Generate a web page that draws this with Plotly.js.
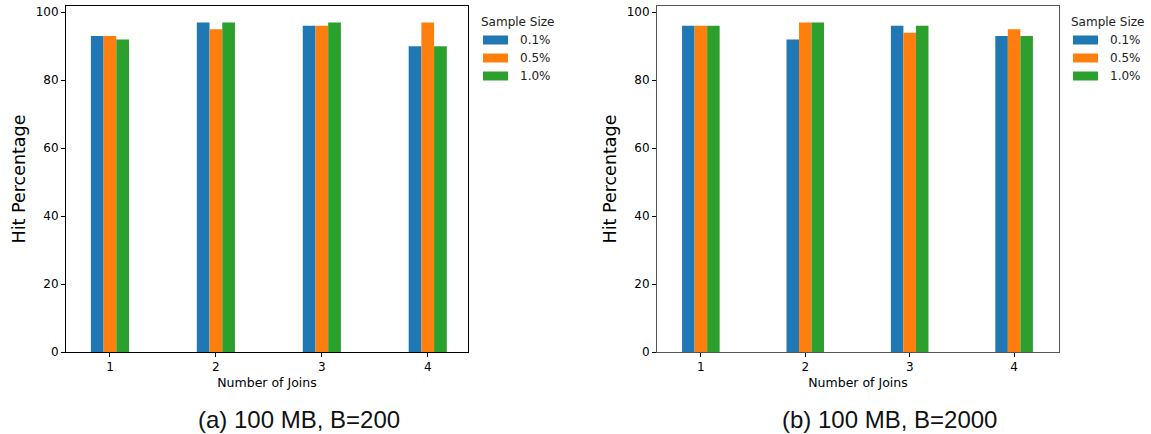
<!DOCTYPE html>
<html>
<head>
<meta charset="utf-8">
<script src="https://cdn.plot.ly/plotly-3.0.1.min.js"></script>
<style>html,body{margin:0;padding:0;background:#fff;}#chart{width:1151px;height:434px;}</style>
</head>
<body>
<div id="chart"></div>
<script>
const joins = [1, 2, 3, 4];
const sampleSizes = ["0.1%", "0.5%", "1.0%"];
const colors = ["#1f77b4", "#ff7f0e", "#2ca02c"];
// (a) 100 MB, B=200
const a_01 = [93, 97, 96, 90];
const a_05 = [93, 95, 96, 97];
const a_10 = [92, 97, 97, 90];
// (b) 100 MB, B=2000
const b_01 = [96, 92, 96, 93];
const b_05 = [96, 97, 94, 95];
const b_10 = [96, 97, 96, 93];
const yTicks = [0, 20, 40, 60, 80, 100];
const titleA = "(a) 100 MB, B=200";
const titleB = "(b) 100 MB, B=2000";

const W = 1151, H = 434;
const seriesA = [a_01, a_05, a_10];
const seriesB = [b_01, b_05, b_10];
const traces = [];
seriesA.forEach((v, i) => traces.push({type: 'bar', x: joins, y: v, name: sampleSizes[i], marker: {color: colors[i]}, xaxis: 'x', yaxis: 'y', showlegend: false, hoverinfo: 'none'}));
seriesB.forEach((v, i) => traces.push({type: 'bar', x: joins, y: v, name: sampleSizes[i], marker: {color: colors[i]}, xaxis: 'x2', yaxis: 'y2', showlegend: false, hoverinfo: 'none'}));

const font = "DejaVu Sans, sans-serif";
function xa(domainPx, range, anchor, lc) {
  return {domain: [domainPx[0] / W, domainPx[1] / W], anchor: anchor, range: range,
    tickvals: joins, ticktext: joins.map(String), ticks: 'outside', ticklen: 4, tickcolor: '#000', tickwidth: 1,
    showline: true, linecolor: lc, linewidth: 1, mirror: true, showgrid: false, zeroline: false,
    tickfont: {family: font, size: 12, color: '#000'},
    title: {text: 'Number of Joins', font: {family: font, size: 12.5, color: '#000'}, standoff: 4}, fixedrange: true};
}
function ya(anchor, lc) {
  return {domain: [(H - 352) / H, (H - 6) / H], anchor: anchor, range: [0, 101.85],
    tickvals: yTicks, ticks: 'outside', ticklen: 4, tickcolor: '#000', tickwidth: 1,
    showline: true, linecolor: lc, linewidth: 1, mirror: true, showgrid: false, zeroline: false,
    tickfont: {family: font, size: 12, color: '#000'},
    title: {text: 'Hit Percentage', font: {family: font, size: 17.5, color: '#000'}, standoff: 5}, fixedrange: true};
}

const shapes = [], annotations = [];
function legend(x0, y0) {
  annotations.push({xref: 'paper', yref: 'paper', x: x0 / W, y: 1 - y0 / H, text: 'Sample Size', showarrow: false,
    xanchor: 'left', yanchor: 'middle', font: {family: font, size: 12, color: '#222'}});
  sampleSizes.forEach((s, i) => {
    const cy = y0 + 18 + i * 18;
    shapes.push({type: 'rect', xref: 'paper', yref: 'paper', x0: (x0 + 4) / W, x1: (x0 + 29) / W,
      y0: 1 - (cy - 4.5) / H, y1: 1 - (cy + 4.5) / H, fillcolor: colors[i], line: {width: 0}});
    annotations.push({xref: 'paper', yref: 'paper', x: (x0 + 39) / W, y: 1 - cy / H, text: s, showarrow: false,
      xanchor: 'left', yanchor: 'middle', font: {family: font, size: 12, color: '#222'}});
  });
}
legend(479, 22);
legend(1069, 22);
annotations.push({xref: 'paper', yref: 'paper', x: 299 / W, y: 1 - 419 / H, text: titleA, showarrow: false,
  xanchor: 'center', yanchor: 'middle', font: {family: 'Liberation Sans, Arial, sans-serif', size: 24, color: '#111'}});
annotations.push({xref: 'paper', yref: 'paper', x: 889 / W, y: 1 - 419 / H, text: titleB, showarrow: false,
  xanchor: 'center', yanchor: 'middle', font: {family: 'Liberation Sans, Arial, sans-serif', size: 24, color: '#111'}});

const layout = {
  width: W, height: H, margin: {l: 0, r: 0, t: 0, b: 0}, paper_bgcolor: '#fff', plot_bgcolor: '#fff',
  barmode: 'group', bargap: 0.64, bargroupgap: 0, showlegend: false,
  xaxis: xa([66, 468], [0.585, 4.38], 'y', '#000'), yaxis: ya('x', '#000'),
  xaxis2: xa([657, 1059], [0.58, 4.43], 'y2', '#555'), yaxis2: ya('x2', '#555'),
  shapes: shapes, annotations: annotations
};
Plotly.newPlot('chart', traces, layout, {displayModeBar: false, staticPlot: true});
</script>
</body>
</html>
